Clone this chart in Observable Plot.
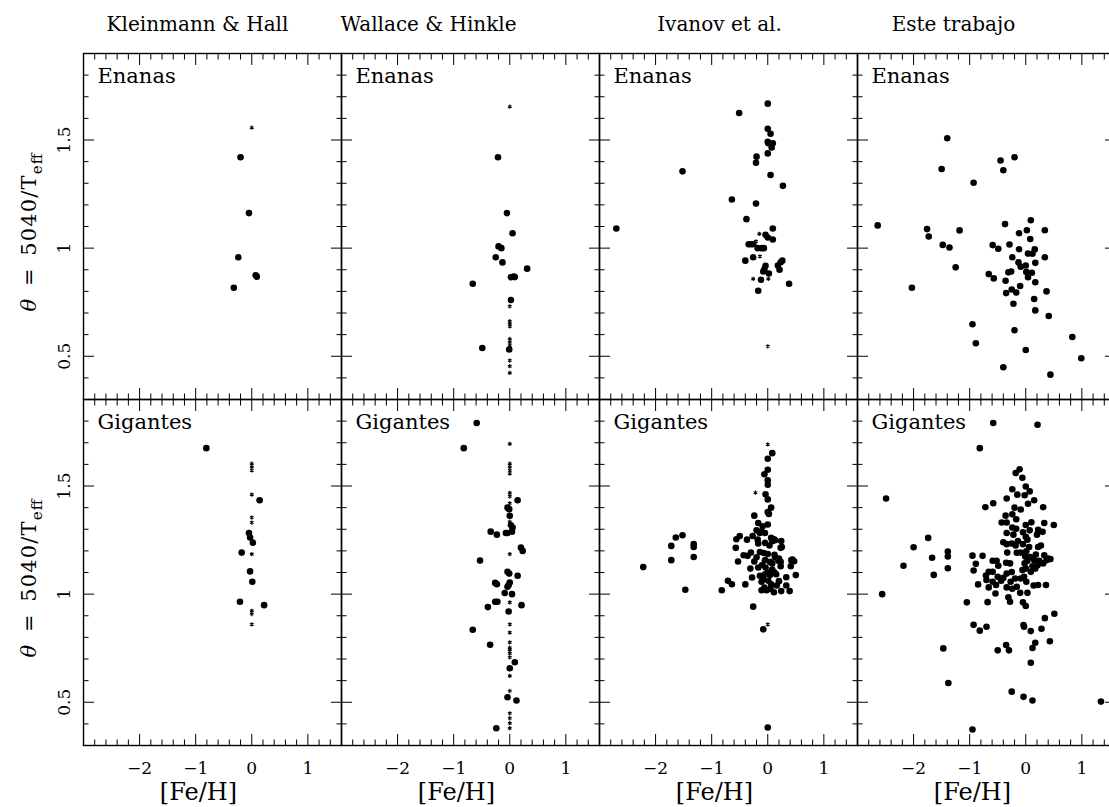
<!DOCTYPE html>
<html><head><meta charset="utf-8">
<script src="https://cdn.jsdelivr.net/npm/d3@7"></script>
<script src="https://cdn.jsdelivr.net/npm/@observablehq/plot@0.6"></script>
<style>
html,body{margin:0;padding:0;background:#fff;overflow:hidden;}
#chart svg{display:block;max-width:none !important;}
</style></head><body><div id="chart"></div>
<script>
// ---------- categories & ticks ----------
const sources = ["Kleinmann & Hall", "Wallace & Hinkle", "Ivanov et al.", "Este trabajo"];
const classes = ["Enanas", "Gigantes"];
const xMajorTicks = [-2, -1, 0, 1];
const xMinorTicks = [-2.8,-2.6,-2.4,-2.2,-1.8,-1.6,-1.4,-1.2,-0.8,-0.6,-0.4,-0.2,0.2,0.4,0.6,0.8,1.2,1.4];
const yMajorTicks = [0.5, 1, 1.5];
const yMinorTicks = [0.4,0.6,0.7,0.8,0.9,1.1,1.2,1.3,1.4,1.6,1.7,1.8];
const xLabelText = "[Fe/H]";
const yLabelText = "θ = 5040/Teff";

// ---------- data: [Fe/H], theta ----------
const khDwarfDots = [[-0.20,1.42],[-0.05,1.162],[-0.24,0.958],[0.07,0.874],[0.09,0.868],[-0.32,0.817]];
const khDwarfStars = [[0,1.557]];
const khGiantDots = [[-0.81,1.675],[0.14,1.434],[-0.05,1.283],[-0.03,1.262],[0.02,1.238],[-0.18,1.192],[-0.03,1.105],[0.01,1.057],[-0.21,0.965],[0.22,0.949]];
const khGiantStars = [[0,1.603],[0,1.588],[0,1.572],[0,1.46],[0,1.354],[0,1.331],[0,1.185],[0,0.923],[0,0.908],[0,0.86]];

const whDwarfDots = [[-0.21,1.42],[-0.05,1.162],[0.05,1.069],[-0.20,1.008],[-0.15,1.0],[-0.25,0.958],[-0.13,0.934],[0.31,0.905],[0.02,0.865],[0.07,0.869],[0.09,0.866],[-0.66,0.835],[0.02,0.76],[-0.01,0.531],[-0.49,0.538]];
const whDwarfStars = [[0,1.654],[0,0.731],[0,0.662],[0,0.649],[0,0.638],[0,0.58],[0,0.565],[0,0.549],[0,0.48],[0,0.454],[0,0.423]];
const whGiantDots = [[-0.59,1.791],[-0.82,1.675],[0.14,1.434],[-0.04,1.40],[-0.01,1.393],[0,1.362],[0.02,1.318],[0.05,1.308],[-0.34,1.289],[-0.23,1.275],[-0.07,1.283],[-0.04,1.283],[0.04,1.289],[0.20,1.215],[0.23,1.20],[-0.53,1.155],[-0.04,1.103],[-0.01,1.095],[0.14,1.085],[-0.26,1.052],[-0.23,1.046],[-0.02,1.042],[0,1.054],[-0.04,1.034],[-0.09,1.005],[0.04,1.0],[-0.26,0.965],[-0.22,0.965],[0.21,0.949],[-0.39,0.94],[-0.02,0.92],[-0.66,0.835],[-0.35,0.766],[0.09,0.685],[0,0.657],[-0.04,0.523],[0.12,0.508],[-0.24,0.38]];
const whGiantStars = [[0,1.695],[0,1.603],[0,1.588],[0,1.572],[0,1.557],[0,1.468],[0,1.452],[0,1.42],[0,1.334],[0,1.185],[0,0.962],[0,0.86],[0,0.822],[0,0.777],[0,0.752],[0,0.742],[0,0.726],[0,0.708],[0,0.622],[0,0.552],[0,0.449],[0,0.426],[0,0.403],[0,0.38]];

const ivDwarfDots = [[0,1.668],[-0.51,1.625],[-1.52,1.355],[-2.70,1.091],[0,1.552],[0.05,1.529],[0,1.492],[0.09,1.485],[0.01,1.485],[0.07,1.465],[0,1.438],[-0.2,1.423],[-0.21,1.395],[0.05,1.338],[0.27,1.288],[-0.64,1.225],[-0.21,1.206],[-0.38,1.134],[0.09,1.091],[-0.04,1.062],[0,1.049],[0.09,1.04],[-0.34,1.018],[-0.30,1.018],[-0.26,1.018],[-0.18,1.0],[-0.11,1.0],[-0.07,1.0],[-0.26,0.958],[-0.4,0.942],[0.26,0.942],[0.23,0.935],[0.18,0.92],[0.21,0.9],[-0.04,0.918],[-0.06,0.903],[-0.08,0.892],[0.02,0.883],[-0.12,0.854],[0.38,0.835],[-0.17,0.803]];
const ivDwarfStars = [[-0.15,1.066],[-0.21,1.031],[-0.14,0.962],[-0.26,0.858],[0.01,0.858],[0,0.546]];
const ivGiantDots = [[0.08,1.652],[0,1.626],[0,1.575],[-0.06,1.554],[0,1.526],[0,1.506],[-0.04,1.462],[0,1.438],[0.06,1.4],[0,1.38],[0.02,1.371],[-0.24,1.363],
[-0.17,1.329],[-0.09,1.314],[0,1.322],[-0.14,1.283],[-0.05,1.283],[-0.18,1.252],[-0.20,1.295],[-0.11,1.29],
[-1.64,1.262],[-1.52,1.272],[-1.72,1.223],[-1.32,1.231],[-1.32,1.218],[-1.72,1.157],[-1.32,1.172],[-2.22,1.125],[-1.47,1.02],
[-0.56,1.254],[-0.50,1.269],[-0.37,1.252],[-0.27,1.269],[-0.57,1.214],
[0.06,1.26],[0.11,1.254],[0.24,1.246],[-0.05,1.237],[0.08,1.245],[0.23,1.214],[0.25,1.218],[-0.17,1.234],[0.13,1.249],[0.03,1.225],
[-0.43,1.18],[-0.36,1.177],[-0.30,1.192],[-0.14,1.195],[-0.07,1.19],[0,1.185],[0.12,1.182],[0.13,1.17],[0.2,1.165],[-0.2,1.17],
[-0.53,1.151],[-0.24,1.151],[-0.05,1.157],[0.04,1.149],[0.08,1.142],[0.19,1.154],[0.23,1.149],[0.42,1.157],[0.47,1.152],[0.41,1.129],[0.44,1.16],
[-0.31,1.118],[-0.17,1.123],[-0.04,1.123],[0.08,1.114],[0.23,1.129],[-0.1,1.135],[0.0,1.10],[0.12,1.10],
[-0.28,1.077],[-0.14,1.085],[-0.05,1.092],[0.04,1.088],[0.15,1.092],[0.5,1.088],[-0.08,1.07],
[-0.71,1.062],[-0.64,1.046],[-0.40,1.045],[-0.82,1.018],
[-0.11,1.057],[0.01,1.062],[0.33,1.078],[0.33,1.04],[0.16,1.04],[0.06,1.045],[0.2,1.06],
[-0.11,1.018],[-0.02,1.018],[0.11,1.009],[0.24,1.014],[0.39,1.014],[-0.06,1.03],[0.05,1.025],
[-0.26,0.942],[-0.08,0.837],[0,0.383]];
const ivGiantStars = [[0,1.692],[-0.22,1.469],[0,0.86]];

const esDwarfDots = [[-1.40,1.508],[-0.45,1.405],[-0.20,1.42],[-1.50,1.366],[-0.40,1.36],[-0.93,1.302],
[0.09,1.129],[-2.64,1.105],[-0.37,1.111],[-1.76,1.088],[-1.18,1.082],[0.02,1.083],[0.34,1.083],
[-0.12,1.069],[-1.73,1.054],[0.08,1.042],[-1.48,1.015],[-1.36,1.003],[-0.59,1.014],[-0.49,0.997],
[-0.29,1.017],[-0.12,0.995],[0.16,0.994],[0.04,0.975],[0.12,0.974],[-0.24,0.958],[0.34,0.958],
[-0.13,0.934],[-0.09,0.914],[0.17,0.932],[-1.25,0.911],[0,0.92],[-0.31,0.888],[-0.26,0.892],
[0.01,0.89],[0.11,0.886],[-0.66,0.88],[-0.57,0.86],[0.04,0.865],[-0.36,0.849],[0.17,0.842],
[-0.10,0.825],[-2.03,0.817],[-0.35,0.792],[-0.25,0.809],[-0.17,0.795],[0.37,0.8],[0.15,0.765],
[-0.22,0.743],[0.17,0.712],[0.41,0.686],[-0.95,0.648],[-0.20,0.62],[0.83,0.589],[-0.89,0.56],
[0,0.529],[0.99,0.491],[-0.40,0.449],[0.44,0.415]];
const esGiantDots = [[-0.58,1.791],[0.21,1.783],[-0.82,1.675],
[-0.11,1.577],[-0.18,1.56],[-0.06,1.538],
[0,1.498],[0.07,1.475],[-0.02,1.457],[0.15,1.434],[-0.24,1.485],[-0.15,1.46],
[-2.49,1.442],[-0.34,1.442],[-0.58,1.42],[-0.72,1.402],
[0.04,1.418],[-0.09,1.391],[-0.2,1.4],[0.31,1.402],
[-0.36,1.363],[-0.24,1.369],[-0.17,1.346],
[-0.43,1.331],[-0.34,1.331],[0,1.32],[0.10,1.332],[0.33,1.329],[0.50,1.32],
[-0.24,1.308],[-0.17,1.302],[-0.34,1.283],[-0.22,1.275],[-0.05,1.286],[0.07,1.295],[0.22,1.297],[0.30,1.288],[0.20,1.275],
[-0.40,1.24],[-0.34,1.231],[-0.25,1.234],[-0.18,1.225],[-0.14,1.246],[0.03,1.252],[-0.05,1.231],[0.06,1.218],[0.22,1.218],[0.27,1.225],[0,1.265],
[-0.33,1.192],[-0.16,1.191],[-0.09,1.192],[0.01,1.198],[0.33,1.18],[0.40,1.165],[-0.01,1.174],[0.08,1.172],[0.18,1.183],[-0.77,1.177],[-0.95,1.178],
[-0.59,1.154],[-0.52,1.154],[-0.49,1.131],[-0.35,1.145],[-0.28,1.142],[-0.02,1.142],[0.03,1.154],[0.15,1.157],[0.24,1.154],[0.37,1.157],[0.44,1.162],[0.12,1.129],[0.21,1.134],[0.31,1.142],[-0.89,1.14],
[-0.66,1.103],[-0.59,1.103],[-0.34,1.095],[-0.25,1.102],[-0.06,1.111],[0,1.118],[0.09,1.103],[0.17,1.118],[-0.93,1.109],[-0.71,1.086],[-0.50,1.08],[-0.40,1.075],[-0.19,1.072],[-0.03,1.08],
[-0.70,1.065],[-0.59,1.057],[-0.44,1.062],[-0.27,1.057],[-0.16,1.034],[-0.24,1.025],[-0.34,1.031],[0.01,1.057],[0.14,1.04],[0.22,1.042],[0.36,1.042],[-0.85,1.045],[-0.66,1.031],[-0.53,1.042],[-0.09,1.072],
[-0.54,1.003],[-0.31,0.985],[-0.28,0.965],[-0.10,1.006],[-0.05,0.962],[0,0.945],[0.03,1.006],[-0.68,0.963],[-1.05,0.962],
[-1.74,1.26],[-2.0,1.217],[-1.67,1.168],[-2.18,1.131],[-1.64,1.089],[-1.39,1.197],[-1.39,1.174],[-1.39,1.12],[-2.56,1.0],
[-0.93,0.858],[-0.82,0.831],[-0.70,0.849],[-0.04,0.857],[-0.03,0.849],[0.09,0.829],[0.34,0.889],[0.51,0.909],[0.28,0.84],[0.43,0.782],[-1.47,0.749],[-0.50,0.74],[-0.35,0.765],[-0.30,0.74],[0.17,0.775],[0.12,0.751],[0.09,0.683],[-1.38,0.589],[-0.25,0.549],[-0.04,0.525],[0.12,0.508],[1.34,0.503],[-0.95,0.374]];

// ---------- build tables ----------
const panels = [
  [sources[0], classes[0], khDwarfDots, khDwarfStars],
  [sources[0], classes[1], khGiantDots, khGiantStars],
  [sources[1], classes[0], whDwarfDots, whDwarfStars],
  [sources[1], classes[1], whGiantDots, whGiantStars],
  [sources[2], classes[0], ivDwarfDots, ivDwarfStars],
  [sources[2], classes[1], ivGiantDots, ivGiantStars],
  [sources[3], classes[0], esDwarfDots, []],
  [sources[3], classes[1], esGiantDots, []]
];
const dotRows = panels.flatMap(([src, cls, d]) => d.map(([feh, theta]) => ({src, cls, feh, theta})));
const starRows = panels.flatMap(([src, cls, , s]) => s.map(([feh, theta]) => ({src, cls, feh, theta})));
const panelLabels = panels.map(([src, cls]) => ({src, cls}));

// ---------- style ----------
const font = "'DejaVu Serif', serif";
const titleShift = [-15, -42, -9, -33];
const fmtX = d => d < 0 ? "\u2212" + Math.abs(d) : String(d);
const fmtY = d => String(d);

const tickMarks = [];
for (const anchor of ["top", "bottom"]) {
  tickMarks.push(Plot.axisX(xMajorTicks, {anchor, facetAnchor: null, tickSize: -11, fill: "none", stroke: "black", label: null}));
  tickMarks.push(Plot.axisX(xMinorTicks, {anchor, facetAnchor: null, tickSize: -5.5, fill: "none", stroke: "black", label: null}));
}
for (const anchor of ["left", "right"]) {
  tickMarks.push(Plot.axisY(yMajorTicks, {anchor, facetAnchor: null, tickSize: -11, fill: "none", stroke: "black", label: null}));
  tickMarks.push(Plot.axisY(yMinorTicks, {anchor, facetAnchor: null, tickSize: -5.5, fill: "none", stroke: "black", label: null}));
}

const titleMarks = sources.map((s, i) => Plot.text([{src: s, cls: classes[0]}], {
  fx: "src", fy: "cls", text: "src", frameAnchor: "top", lineAnchor: "middle", textAnchor: "middle",
  dy: -29, dx: titleShift[i], fontSize: 20, fill: "black"
}));

const chart = Plot.plot({
  width: 1116, height: 807,
  marginLeft: 82, marginRight: 0, marginTop: 52.5, marginBottom: 61,
  style: {fontFamily: font, fontSize: "17px", color: "black", background: "white", overflow: "visible", maxWidth: "none"},
  x: {domain: [-3, 1.6]},
  y: {domain: [0.3, 1.9]},
  fx: {domain: sources, padding: 0, axis: null},
  fy: {domain: classes, padding: 0, axis: null},
  marks: [
    ...tickMarks,
    Plot.frame({stroke: "black", strokeWidth: 1.4}),
    Plot.axisX(xMajorTicks, {anchor: "bottom", tickSize: 0, tickPadding: 16, tickFormat: fmtX, fontSize: 17, label: null}),
    Plot.axisY(yMajorTicks, {anchor: "left", tickSize: 0, tickPadding: 14, tickRotate: -90, tickFormat: fmtY, fontSize: 17, label: null}),
    Plot.dot(dotRows, {x: "feh", y: "theta", fx: "src", fy: "cls", r: 3.3, fill: "black", stroke: "none"}),
    Plot.dot(starRows, {x: "feh", y: "theta", fx: "src", fy: "cls", symbol: "asterisk", r: 2, stroke: "black", strokeWidth: 1.1}),
    Plot.text(panelLabels, {fx: "src", fy: "cls", text: "cls", frameAnchor: "top-left", dx: 14, dy: 15, lineAnchor: "top", textAnchor: "start", fontSize: 21, fill: "black"}),
    ...titleMarks,
    Plot.text(sources.map(s => ({src: s, cls: classes[1]})), {fx: "src", fy: "cls", text: () => xLabelText, frameAnchor: "bottom", lineAnchor: "middle", textAnchor: "middle", dy: 47, dx: -14, fontSize: 24, fill: "black"}),
    Plot.text(classes.map(c => ({src: sources[0], cls: c})), {fx: "src", fy: "cls", text: () => yLabelText, frameAnchor: "left", lineAnchor: "middle", textAnchor: "middle", dx: -54, dy: 6, rotate: -90, fontSize: 21, fill: "black"})
  ]
});
document.getElementById("chart").appendChild(chart);

// subscript / italic on the y label, held to the reference length
const yLabelLength = 158;
d3.select(chart).selectAll("text").filter(function () { return this.textContent === yLabelText; }).each(function () {
  const t = d3.select(this);
  t.text(null);
  t.append("tspan").attr("font-style", "italic").text("θ");
  t.append("tspan").text("\u2002=\u20025040/T");
  t.append("tspan").attr("font-size", "0.72em").attr("dy", "0.35em").text("eff");
  t.attr("textLength", yLabelLength).attr("lengthAdjust", "spacing");
});
</script>
</body></html>
